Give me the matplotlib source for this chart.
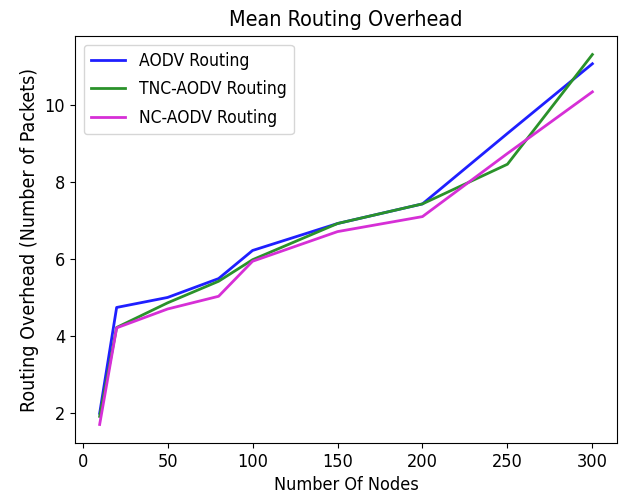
import matplotlib
matplotlib.use("Agg")
import matplotlib.pyplot as plt

# number of nodes in the network
nodes = [10, 20, 50, 80, 100, 150, 200, 250, 300]

# mean routing overhead (packets)
aodv = [2.0, 4.75, 5.01, 5.50, 6.23, 6.93, 7.44, 9.27, 11.08]
tnc_aodv = [1.92, 4.23, 4.87, 5.43, 5.99, 6.93, 7.44, 8.47, 11.32]
nc_aodv = [1.71, 4.22, 4.71, 5.04, 5.95, 6.72, 7.11, 8.75, 10.35]

plt.rcParams['font.family'] = ['DejaVu Sans']
plt.rcParams['font.stretch'] = 'condensed'

fig = plt.figure(figsize=(6.22, 5.03), dpi=100)
ax = fig.add_axes([0.1206, 0.1193, 0.8714, 0.8091])
ax.plot(nodes, aodv, color='#1f1fff', lw=2, label='AODV Routing')
ax.plot(nodes, tnc_aodv, color='#2a922a', lw=2, label='TNC-AODV Routing')
ax.plot(nodes, nc_aodv, color='#d62fd6', lw=2, label='NC-AODV Routing')
ax.set_title("Mean Routing Overhead", fontsize=15.5, pad=7)
ax.set_xlabel("Number Of Nodes", fontsize=13)
ax.set_ylabel("Routing Overhead (Number of Packets)", fontsize=14)
ax.tick_params(labelsize=13)
ax.legend(loc='upper left', fontsize=12.5, labelspacing=0.62)
fig.savefig("out.png", dpi=100)
